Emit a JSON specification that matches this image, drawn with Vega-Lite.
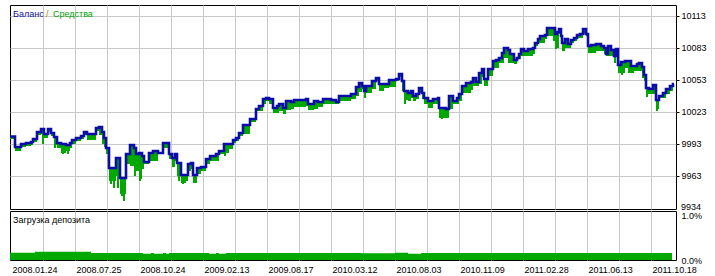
{
  "$schema": "https://vega.github.io/schema/vega-lite/v6.json",
  "padding": {"left": 4, "top": 4, "right": 0, "bottom": 0},
  "background": "white",
  "spacing": 2,
  "bounds": "flush",
  "config": {
    "view": {"stroke": "#000000", "strokeWidth": 1},
    "axis": {"labelFont": "Liberation Sans", "labelFontSize": 9, "labelColor": "#000000", "gridColor": "#c8c8c8", "gridWidth": 1, "gridOpacity": 1, "title": null, "labelFlush": false, "labelOverlap": false, "tickCount": 100}
  },
  "datasets": {
    "trades": [
      {"n":0,"b":10000,"e":9997.7},{"n":5,"b":9990.2,"e":9986.4},{"n":11,"b":9993.0,"e":9990.2},{"n":16,"b":9993.9,"e":9991.1},
      {"n":21,"b":9994.9,"e":9992.1},{"n":23,"b":9997.7,"e":9994.9},{"n":27,"b":10004.3,"e":10001.4},{"n":31,"b":10007.1,"e":10002.4},
      {"n":34,"b":10002.4,"e":9998.6},{"n":38,"b":10007.1,"e":10004.3},{"n":41,"b":10003.3,"e":10000.5},{"n":44,"b":9999.6,"e":9992.1},
      {"n":47,"b":9993.9,"e":9989.3},{"n":51,"b":9993.0,"e":9984.6},{"n":56,"b":9992.1,"e":9986.4},{"n":60,"b":9993.9,"e":9989.3},
      {"n":62,"b":9996.8,"e":9993.0},{"n":66,"b":9998.6,"e":9995.8},{"n":71,"b":10000.5,"e":9997.7},{"n":74,"b":10004.3,"e":10001.4},
      {"n":77,"b":10002.4,"e":9996.8},{"n":82,"b":10002.4,"e":9996.8},{"n":86,"b":10008.0,"e":10005.2},{"n":89,"b":10008.9,"e":10001.4},
      {"n":92,"b":10004.3,"e":9993.0},{"n":94,"b":9998.6,"e":9990.2},{"n":96,"b":9989.3,"e":9984.6},{"n":99,"b":9970.5,"e":9958.3},
      {"n":106,"b":9979.9,"e":9963.0},{"n":110,"b":9961.1,"e":9946.1},{"n":116,"b":9983.6,"e":9974.3},{"n":120,"b":9992.1,"e":9972.4},
      {"n":124,"b":9989.3,"e":9969.6},{"n":126,"b":9983.6,"e":9967.7},{"n":129,"b":9984.6,"e":9963.0},{"n":132,"b":9981.8,"e":9969.6},
      {"n":134,"b":9976.1,"e":9974.3},{"n":139,"b":9984.6,"e":9977.1},{"n":143,"b":9986.4,"e":9977.1},{"n":148,"b":9984.6,"e":9983.6},
      {"n":153,"b":9993.9,"e":9989.3},{"n":159,"b":9983.6,"e":9978.9},{"n":162,"b":9979.9,"e":9971.4},{"n":165,"b":9983.6,"e":9977.1},
      {"n":167,"b":9975.2,"e":9963.0},{"n":171,"b":9963.9,"e":9956.4},{"n":176,"b":9963.9,"e":9958.3},{"n":178,"b":9974.3,"e":9967.7},
      {"n":181,"b":9975.2,"e":9969.6},{"n":183,"b":9963.9,"e":9956.4},{"n":187,"b":9970.5,"e":9964.9},{"n":191,"b":9971.4,"e":9967.7},
      {"n":196,"b":9978.9,"e":9974.3},{"n":200,"b":9981.8,"e":9977.1},{"n":206,"b":9983.6,"e":9977.1},{"n":209,"b":9986.4,"e":9983.6},
      {"n":214,"b":9993.0,"e":9984.6},{"n":219,"b":9993.0,"e":9988.4},{"n":223,"b":9996.8,"e":9993.9},{"n":226,"b":9998.6,"e":9995.8},
      {"n":229,"b":10003.3,"e":10000.5},{"n":233,"b":10010.8,"e":10002.4},{"n":240,"b":10016.4,"e":10013.6},{"n":246,"b":10025.8,"e":10024.0},
      {"n":249,"b":10028.6,"e":10024.0},{"n":253,"b":10035.2,"e":10030.5},{"n":256,"b":10036.1,"e":10033.3},{"n":259,"b":10035.2,"e":10030.5},
      {"n":263,"b":10026.8,"e":10022.1},{"n":267,"b":10028.6,"e":10022.1},{"n":269,"b":10030.5,"e":10024.0},{"n":273,"b":10026.8,"e":10021.2},
      {"n":276,"b":10033.3,"e":10024.9},{"n":281,"b":10032.4,"e":10025.8},{"n":284,"b":10034.3,"e":10027.7},{"n":296,"b":10035.2,"e":10028.6},
      {"n":298,"b":10030.5,"e":10024.9},{"n":304,"b":10033.3,"e":10025.8},{"n":308,"b":10032.4,"e":10027.7},{"n":313,"b":10035.2,"e":10030.5},
      {"n":321,"b":10034.3,"e":10030.5},{"n":326,"b":10032.4,"e":10030.5},{"n":329,"b":10038.0,"e":10033.3},{"n":336,"b":10038.0,"e":10033.3},
      {"n":341,"b":10039.9,"e":10035.2},{"n":346,"b":10046.4,"e":10038.0},{"n":349,"b":10050.2,"e":10041.8},{"n":352,"b":10047.4,"e":10044.6},
      {"n":354,"b":10042.7,"e":10036.1},{"n":356,"b":10047.4,"e":10040.8},{"n":362,"b":10052.1,"e":10044.6},{"n":366,"b":10054.9,"e":10052.1},
      {"n":369,"b":10049.3,"e":10042.7},{"n":374,"b":10049.3,"e":10045.5},{"n":379,"b":10053.0,"e":10046.4},{"n":386,"b":10053.9,"e":10052.1},
      {"n":389,"b":10058.6,"e":10055.8},{"n":392,"b":10052.1,"e":10042.7},{"n":394,"b":10042.7,"e":10034.3},{"n":398,"b":10040.8,"e":10033.3},
      {"n":401,"b":10042.7,"e":10036.1},{"n":403,"b":10038.0,"e":10033.3},{"n":406,"b":10039.9,"e":10035.2},{"n":409,"b":10045.5,"e":10040.8},
      {"n":412,"b":10040.8,"e":10035.2},{"n":414,"b":10036.1,"e":10030.5},{"n":418,"b":10033.3,"e":10026.8},{"n":423,"b":10035.2,"e":10030.5},
      {"n":428,"b":10036.1,"e":10033.3},{"n":429,"b":10026.8,"e":10017.4},{"n":436,"b":10025.8,"e":10017.4},{"n":439,"b":10038.0,"e":10025.8},
      {"n":443,"b":10033.3,"e":10030.5},{"n":447,"b":10036.1,"e":10030.5},{"n":449,"b":10039.9,"e":10033.3},{"n":452,"b":10047.4,"e":10040.8},
      {"n":456,"b":10050.2,"e":10040.8},{"n":461,"b":10051.1,"e":10043.6},{"n":463,"b":10054.9,"e":10047.4},{"n":466,"b":10051.1,"e":10047.4},
      {"n":469,"b":10059.6,"e":10049.3},{"n":472,"b":10063.3,"e":10055.8},{"n":474,"b":10053.9,"e":10047.4},{"n":478,"b":10063.3,"e":10056.8},
      {"n":483,"b":10070.8,"e":10064.3},{"n":486,"b":10071.8,"e":10064.3},{"n":489,"b":10073.6,"e":10068.9},{"n":492,"b":10078.3,"e":10068.9},
      {"n":494,"b":10083.0,"e":10073.6},{"n":498,"b":10081.1,"e":10068.9},{"n":500,"b":10077.4,"e":10068.9},{"n":504,"b":10071.8,"e":10068.0},
      {"n":507,"b":10073.6,"e":10072.7},{"n":509,"b":10077.4,"e":10072.7},{"n":511,"b":10082.1,"e":10075.5},{"n":514,"b":10080.2,"e":10075.5},
      {"n":518,"b":10082.1,"e":10075.5},{"n":523,"b":10083.0,"e":10077.4},{"n":525,"b":10087.7,"e":10084.9},{"n":528,"b":10091.4,"e":10087.7},
      {"n":530,"b":10094.3,"e":10087.7},{"n":535,"b":10095.2,"e":10091.4},{"n":537,"b":10101.8,"e":10094.3},{"n":543,"b":10101.8,"e":10089.6},
      {"n":545,"b":10096.1,"e":10086.8},{"n":547,"b":10098.0,"e":10083.0},{"n":549,"b":10100.8,"e":10096.1},{"n":551,"b":10094.3,"e":10089.6},
      {"n":552,"b":10087.7,"e":10080.2},{"n":555,"b":10091.4,"e":10083.0},{"n":558,"b":10086.8,"e":10083.0},{"n":561,"b":10090.5,"e":10087.7},
      {"n":564,"b":10092.4,"e":10089.6},{"n":567,"b":10095.2,"e":10092.4},{"n":570,"b":10096.1,"e":10092.4},{"n":573,"b":10100.8,"e":10096.1},
      {"n":576,"b":10096.1,"e":10094.3},{"n":578,"b":10084.9,"e":10078.3},{"n":581,"b":10085.8,"e":10078.3},{"n":586,"b":10086.8,"e":10080.2},
      {"n":591,"b":10084.9,"e":10080.2},{"n":594,"b":10083.0,"e":10077.4},{"n":596,"b":10077.4,"e":10075.5},{"n":598,"b":10084.9,"e":10075.5},
      {"n":601,"b":10081.1,"e":10075.5},{"n":604,"b":10075.5,"e":10068.9},{"n":606,"b":10082.1,"e":10075.5},{"n":608,"b":10067.1,"e":10059.6},
      {"n":611,"b":10069.9,"e":10059.6},{"n":615,"b":10070.8,"e":10064.3},{"n":618,"b":10070.8,"e":10059.6},{"n":621,"b":10066.1,"e":10059.6},
      {"n":624,"b":10066.1,"e":10061.4},{"n":627,"b":10068.0,"e":10061.4},{"n":629,"b":10068.9,"e":10061.4},{"n":632,"b":10065.2,"e":10054.9},
      {"n":634,"b":10057.7,"e":10052.1},{"n":636,"b":10045.5,"e":10039.9},{"n":639,"b":10044.6,"e":10039.9},{"n":643,"b":10048.3,"e":10039.9},
      {"n":646,"b":10034.3,"e":10025.8},{"n":649,"b":10038.0,"e":10036.1},{"n":653,"b":10040.8,"e":10036.1},{"n":656,"b":10044.6,"e":10039.9},
      {"n":660,"b":10047.4,"e":10042.7},{"n":663,"b":10049.3,"e":10046.4},{"n":664,"b":10049.3,"e":10049.3}
    ],
    "spikes": [
      {"n":33,"b":10007.1,"lo":9993.0},{"n":45,"b":9999.6,"lo":9989.3},{"n":53,"b":9993.0,"lo":9983.6},{"n":58,"b":9992.1,"lo":9983.6},
      {"n":97,"b":9989.3,"lo":9983.6},{"n":101,"b":9970.5,"lo":9955.4},{"n":104,"b":9970.5,"lo":9951.7},{"n":108,"b":9979.9,"lo":9951.7},
      {"n":112,"b":9961.1,"lo":9944.2},{"n":114,"b":9961.1,"lo":9939.6},{"n":125,"b":9989.3,"lo":9963.0},{"n":130,"b":9984.6,"lo":9958.3},
      {"n":131,"b":9984.6,"lo":9960.2},{"n":169,"b":9975.2,"lo":9958.3},{"n":173,"b":9963.9,"lo":9955.4},{"n":185,"b":9963.9,"lo":9956.4},
      {"n":215,"b":9993.0,"lo":9981.8},{"n":395,"b":10042.7,"lo":10030.5},{"n":432,"b":10026.8,"lo":10016.4},{"n":546,"b":10096.1,"lo":10082.0},
      {"n":548,"b":10098.0,"lo":10083.0},{"n":612,"b":10069.9,"lo":10057.7},{"n":637,"b":10045.5,"lo":10037.0},{"n":647,"b":10034.3,"lo":10024.0}
    ],
    "load": [
      {"n":0,"p":0.149},{"n":25,"p":0.169},{"n":81,"p":0.143},{"n":133,"p":0.129},{"n":141,"p":0.143},{"n":144,"p":0.129},
      {"n":153,"p":0.143},{"n":156,"p":0.129},{"n":159,"p":0.143},{"n":199,"p":0.129},{"n":206,"p":0.143},{"n":209,"p":0.129},
      {"n":216,"p":0.143},{"n":351,"p":0.137},{"n":385,"p":0.149},{"n":398,"p":0.129},{"n":411,"p":0.143},{"n":662,"p":0.143}
    ]
  },
  "vconcat": [
    {
      "width": 666,
      "height": 204,
      "layer": [
        {
          "data": {"name": "trades"},
          "mark": {"type": "area", "interpolate": "step-after", "color": "#00A800"},
          "encoding": {
            "x": {"field": "n", "type": "quantitative", "scale": {"domain": [0, 666], "nice": false, "zero": false},
                  "axis": {"values": [33,65,97,129,161,193,225,257,289,321,353,385,417,449,481,513,545,577,609,641], "tickCount": 100, "labels": false, "ticks": false, "domain": false, "grid": true, "gridColor": "#c8c8c8", "gridWidth": 1, "labelOverlap": false}},
            "y": {"field": "b", "type": "quantitative", "scale": {"domain": [9932.06, 10123.31], "nice": false, "zero": false},
                  "axis": {"orient": "right", "values": [9963, 9993, 10023, 10053, 10083, 10113], "tickCount": 100, "format": "d", "labelOverlap": false, "labelFlush": false, "domain": false, "ticks": true, "tickSize": 3, "tickColor": "#000000", "labelPadding": 2, "labelBaseline": "middle",
                           "grid": true, "gridColor": "#c8c8c8", "gridWidth": 1}},
            "y2": {"field": "e"}
          }
        },
        {
          "data": {"name": "spikes"},
          "mark": {"type": "rule", "color": "#00A800", "strokeWidth": 2},
          "encoding": {
            "x": {"field": "n", "type": "quantitative"},
            "y": {"field": "b", "type": "quantitative"},
            "y2": {"field": "lo"}
          }
        },
        {
          "data": {"name": "trades"},
          "mark": {"type": "line", "interpolate": "step-after", "color": "#0C0CA8", "strokeWidth": 2.6},
          "encoding": {
            "x": {"field": "n", "type": "quantitative"},
            "y": {"field": "b", "type": "quantitative"}
          }
        },
        {
          "data": {"values": [{"t": "Баланс"}]},
          "mark": {"type": "text", "align": "left", "baseline": "middle", "font": "Liberation Sans", "fontSize": 9, "color": "#1010A0"},
          "encoding": {"x": {"datum": 3, "type": "quantitative"}, "y": {"datum": 10115, "type": "quantitative"}, "text": {"field": "t"}}
        },
        {
          "data": {"values": [{"t": "/"}]},
          "mark": {"type": "text", "align": "left", "baseline": "middle", "font": "Liberation Sans", "fontSize": 9, "color": "#B8860B"},
          "encoding": {"x": {"datum": 36, "type": "quantitative"}, "y": {"datum": 10115, "type": "quantitative"}, "text": {"field": "t"}}
        },
        {
          "data": {"values": [{"t": "Средства"}]},
          "mark": {"type": "text", "align": "left", "baseline": "middle", "font": "Liberation Sans", "fontSize": 9, "color": "#00A000"},
          "encoding": {"x": {"datum": 43, "type": "quantitative"}, "y": {"datum": 10115, "type": "quantitative"}, "text": {"field": "t"}}
        },
        {
          "data": {"values": [{"t": "9934"}]},
          "mark": {"type": "text", "align": "left", "baseline": "middle", "font": "Liberation Sans", "fontSize": 9, "color": "#000000", "dx": 5},
          "encoding": {"x": {"datum": 666, "type": "quantitative"}, "y": {"datum": 9934, "type": "quantitative"}, "text": {"field": "t"}}
        }
      ]
    },
    {
      "width": 666,
      "height": 49,
      "layer": [
        {
          "data": {"name": "load"},
          "mark": {"type": "area", "interpolate": "step-after", "color": "#00A800"},
          "encoding": {
            "x": {"field": "n", "type": "quantitative", "scale": {"domain": [0, 666], "nice": false, "zero": false},
                  "axis": {"values": [1,33,65,97,129,161,193,225,257,289,321,353,385,417,449,481,513,545,577,609,641], "tickCount": 100,
                           "labelExpr": "(datum.value - 1) % 64 == 0 ? ['2008.01.24','2008.07.25','2008.10.24','2009.02.13','2009.08.17','2010.03.12','2010.08.03','2010.11.09','2011.02.28','2011.06.13','2011.10.18'][(datum.value - 1) / 64] : ''",
                           "labelOverlap": false, "labelFlush": false,
                           "ticks": false, "domain": false, "grid": true, "gridColor": "#c8c8c8", "gridWidth": 1, "labelAlign": "left", "labelBaseline": "top", "labelPadding": 5, "labelOffset": 1,
                           "gridOpacity": {"condition": {"test": "datum.value == 1", "value": 0}, "value": 1}}},
            "y": {"field": "p", "type": "quantitative", "scale": {"domain": [0, 1], "nice": false},
                  "axis": {"orient": "right", "values": [0, 1], "tickCount": 100, "grid": false, "domain": false, "ticks": false, "labelPadding": 5, "labelOverlap": false, "labelFlush": false,
                           "labelExpr": "format(datum.value, '.1f') + '%'",
                           "labelBaseline": {"condition": {"test": "datum.value >= 1", "value": "top"}, "value": "middle"}}}
          }
        },
        {
          "data": {"values": [{"t": "Загрузка депозита"}]},
          "mark": {"type": "text", "align": "left", "baseline": "middle", "font": "Liberation Sans", "fontSize": 9, "color": "#000000"},
          "encoding": {"x": {"datum": 3, "type": "quantitative"}, "y": {"datum": 0.816, "type": "quantitative"}, "text": {"field": "t"}}
        }
      ]
    }
  ]
}
